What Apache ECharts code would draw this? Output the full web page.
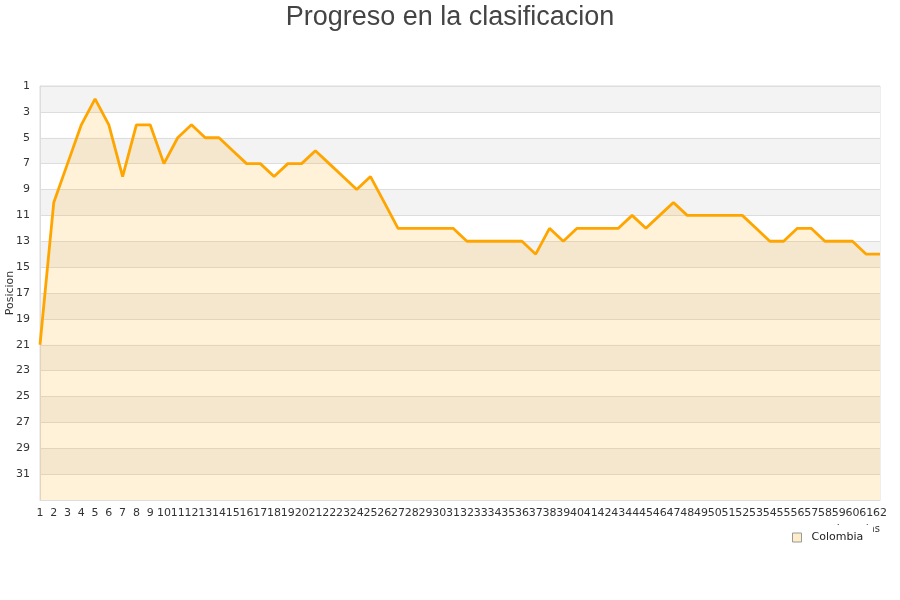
<!DOCTYPE html>
<html>
<head>
<meta charset="utf-8">
<script src="https://cdn.jsdelivr.net/npm/echarts@6/dist/echarts.min.js"></script>
<style>html,body{margin:0;padding:0;background:#fff}#c{width:900px;height:600px}</style>
</head>
<body>
<div id="c"></div>
<script>
var categories = [];
for (var k = 1; k <= 62; k++) categories.push(String(k));
var seriesName = 'Colombia';
var positions = [21,10,7,4,2,4,8,4,4,7,5,4,5,5,6,7,7,8,7,7,6,7,8,9,8,10,12,12,12,12,12,13,13,13,13,13,14,12,13,12,12,12,12,11,12,11,10,11,11,11,11,11,12,13,13,12,12,13,13,13,14,14];
var yMin = 1, yMax = 33, yStep = 2;

var chart = echarts.init(document.getElementById('c'));
chart.setOption({
  animation: false,
  backgroundColor: '#fff',
  title: {
    text: 'Progreso en la clasificacion',
    left: 'center', top: -1,
    textStyle: {fontFamily: 'Liberation Sans', fontSize: 27, fontWeight: 'normal', color: '#444'}
  },
  legend: {
    data: [{name: seriesName, icon: 'rect', itemStyle: {color: '#ffecc8', borderColor: '#999', borderWidth: 1}}],
    left: 787, top: 525,
    padding: [7, 10, 5, 5],
    backgroundColor: '#fff',
    itemWidth: 9, itemHeight: 9, itemGap: 5,
    lineStyle: {opacity: 0},
    textStyle: {fontFamily: 'DejaVu Sans', fontSize: 11, color: '#222', padding: [0, 0, 0, 5]}
  },
  grid: {left: 40, right: 20, top: 86, bottom: 100, show: true, borderColor: '#ddd', borderWidth: 1, containLabel: false, outerBoundsMode: 'none'},
  xAxis: {
    type: 'category',
    data: categories,
    boundaryGap: false,
    name: 'Jornadas',
    nameLocation: 'end',
    nameGap: 0,
    nameTextStyle: {fontFamily: 'DejaVu Sans', fontSize: 10, color: '#333', align: 'right', verticalAlign: 'top', padding: [24, 0, 0, 0]},
    axisLine: {show: true, lineStyle: {color: '#ddd'}},
    axisTick: {show: false},
    axisLabel: {interval: 0, fontFamily: 'DejaVu Sans', fontSize: 11, color: '#333', margin: 8},
    splitLine: {show: false}
  },
  yAxis: {
    type: 'value',
    inverse: true,
    min: yMin, max: yMax, interval: yStep,
    name: 'Posicion',
    nameLocation: 'middle',
    nameGap: 24,
    nameMoveOverlap: false,
    nameTextStyle: {fontFamily: 'DejaVu Sans', fontSize: 11, color: '#333'},
    axisLine: {show: true, lineStyle: {color: '#ddd'}},
    axisTick: {show: false},
    axisLabel: {fontFamily: 'DejaVu Sans', fontSize: 11, color: '#333', margin: 10, showMaxLabel: false},
    splitLine: {show: true, lineStyle: {color: '#ddd'}},
    splitArea: {show: true, areaStyle: {color: ['#f3f3f3', '#ffffff']}}
  },
  series: [{
    name: seriesName,
    type: 'line',
    data: positions,
    symbol: 'none',
    lineStyle: {color: '#ffa500', width: 2.8},
    itemStyle: {color: '#ffa500'},
    areaStyle: {color: 'rgba(255,165,0,0.21)', origin: 'end'}
  }]
});
</script>
</body>
</html>
